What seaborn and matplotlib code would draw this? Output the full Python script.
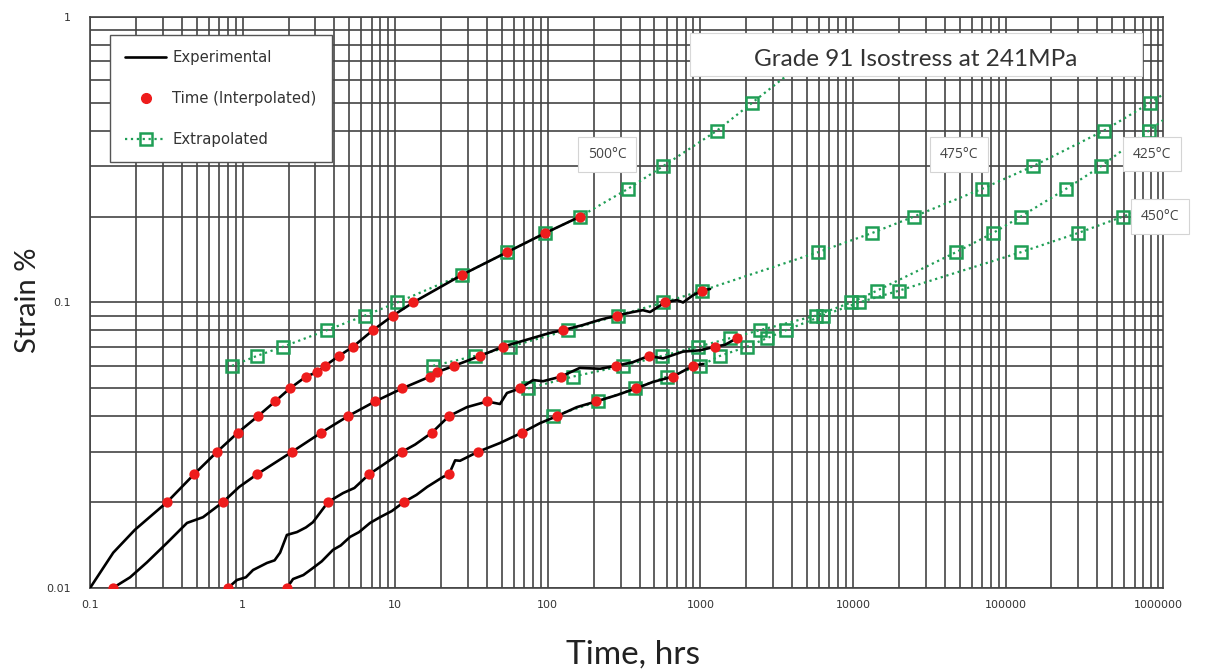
import numpy as np
import pandas as pd
import matplotlib
matplotlib.use("Agg")
import matplotlib.pyplot as plt
from matplotlib.lines import Line2D
from matplotlib.patches import Rectangle
from matplotlib.ticker import LogLocator, NullFormatter
import seaborn as sns

# ---------------- data ----------------
# Experimental creep curves (time in hours, strain in %)
exp_t_500 = [0.1, 0.142, 0.197, 0.32, 0.48, 0.68, 0.93, 1.26, 1.63, 2.04, 2.6, 3.07, 3.47,
             4.28, 5.29, 7.15, 9.67, 13.1, 27.4, 54, 96, 163]
exp_s_500 = [0.01, 0.0133, 0.016, 0.02, 0.025, 0.03, 0.035, 0.04, 0.045, 0.05, 0.055, 0.057, 0.06,
             0.065, 0.07, 0.08, 0.09, 0.1, 0.125, 0.15, 0.175, 0.2]

exp_t_475 = [0.141, 0.183, 0.236, 0.32, 0.432, 0.55, 0.744, 0.95, 1.24, 2.11, 3.27, 4.91, 7.37,
             11.1, 16.9, 18.8, 24.3, 36.0, 50.8, 103, 125.8, 170, 220, 284, 361, 420, 468,
             586, 703, 770, 894, 1025, 1157]
exp_s_475 = [0.01, 0.0109, 0.0123, 0.0144, 0.0169, 0.0177, 0.02, 0.0226, 0.025, 0.03, 0.035, 0.04, 0.045,
             0.05, 0.055, 0.057, 0.06, 0.065, 0.07, 0.0782, 0.08, 0.0834, 0.087, 0.09, 0.0926, 0.094, 0.0926,
             0.1, 0.102, 0.1, 0.106, 0.11, 0.1115]

exp_t_425 = [0.80, 0.919, 1.05, 1.17, 1.445, 1.62, 1.76, 1.95, 2.27, 2.6, 2.89, 3.63, 4.55, 5.4,
             6.73, 8.5, 11.1, 13.5, 17.4, 22.5, 29.5, 40.0, 48.6, 54, 65.8, 80, 93, 122, 162,
             220, 280, 361, 460, 569, 770, 994, 1246, 1450, 1737, 1820]
exp_s_425 = [0.01, 0.01067, 0.0109, 0.01156, 0.01224, 0.0125, 0.0133, 0.01534, 0.0157, 0.0163, 0.017, 0.02, 0.0215, 0.0224,
             0.025, 0.0272, 0.03, 0.0318, 0.035, 0.04, 0.043, 0.045, 0.0441, 0.0482, 0.05, 0.0535, 0.053, 0.055, 0.059,
             0.0586, 0.06, 0.0618, 0.065, 0.0637, 0.0673, 0.068, 0.07, 0.0711, 0.075, 0.0757]

exp_t_450 = [1.95, 2.14, 2.5, 2.89, 3.3, 3.91, 4.4, 5.06, 5.8, 6.84, 7.95, 9.5, 11.4, 13.8, 16.2,
             20.6, 22.5, 24.7, 26.6, 34.9, 48.6, 67.7, 89, 115, 155, 207, 284, 378, 489,
             661, 894, 1040]
exp_s_450 = [0.01, 0.01075, 0.0111, 0.01175, 0.0124, 0.0136, 0.0141, 0.0151, 0.0157, 0.0169, 0.0177, 0.0186, 0.02, 0.0212, 0.0226,
             0.0245, 0.025, 0.028, 0.0279, 0.03, 0.0322, 0.035, 0.0378, 0.04, 0.043, 0.045, 0.0474, 0.05, 0.0527,
             0.055, 0.06, 0.0609]

# Times interpolated at fixed strain levels
red_t_500 = [0.32, 0.48, 0.68, 0.93, 1.26, 1.63, 2.04, 2.6, 3.07, 3.47, 4.28, 5.29, 7.15, 9.67, 13.1, 27.4, 54, 96, 163]
red_s_500 = [0.02, 0.025, 0.03, 0.035, 0.04, 0.045, 0.05, 0.055, 0.057, 0.06, 0.065, 0.07, 0.08, 0.09, 0.1, 0.125, 0.15, 0.175, 0.2]
red_t_475 = [0.141, 0.744, 1.24, 2.11, 3.27, 4.91, 7.37, 11.1, 16.9, 18.8, 24.3, 36.0, 50.8, 125.8, 284, 586, 1025]
red_s_475 = [0.01, 0.02, 0.025, 0.03, 0.035, 0.04, 0.045, 0.05, 0.055, 0.057, 0.06, 0.065, 0.07, 0.08, 0.09, 0.1, 0.11]
red_t_425 = [0.80, 3.63, 6.73, 11.1, 17.4, 22.5, 40.0, 65.8, 122, 280, 460, 1246, 1737]
red_s_425 = [0.01, 0.02, 0.025, 0.03, 0.035, 0.04, 0.045, 0.05, 0.055, 0.06, 0.065, 0.07, 0.075]
red_t_450 = [1.95, 11.4, 22.5, 34.9, 67.7, 115, 207, 378, 661, 894]
red_s_450 = [0.01, 0.02, 0.025, 0.03, 0.035, 0.04, 0.045, 0.05, 0.055, 0.06]

# Extrapolated curves
ext_t_500 = [0.852, 1.24, 1.84, 3.57, 6.34, 10.3, 27.4, 54, 96, 163, 335, 569, 1285, 2178, 4840]
ext_s_500 = [0.06, 0.065, 0.07, 0.08, 0.09, 0.1, 0.125, 0.15, 0.175, 0.2, 0.25, 0.3, 0.4, 0.5, 0.7]
ext_t_475 = [17.7, 33.4, 56.4, 135.6, 287, 573, 1025, 5900, 13300, 25100, 70000, 151000, 442000, 883000, 1.5e6]
ext_s_475 = [0.06, 0.065, 0.07, 0.08, 0.09, 0.1, 0.11, 0.15, 0.175, 0.2, 0.25, 0.3, 0.4, 0.5, 0.6]
ext_t_425 = [74.2, 146, 311, 560, 965, 1563, 2458, 5720, 9700, 14360, 47300, 82600, 126000, 249000, 422000, 871000, 1.53e6]
ext_s_425 = [0.05, 0.055, 0.06, 0.065, 0.07, 0.075, 0.08, 0.09, 0.1, 0.11, 0.15, 0.175, 0.2, 0.25, 0.3, 0.4, 0.5]
ext_t_450 = [108, 213, 373, 604, 994, 1344, 2020, 2732, 3640, 6360, 10950, 20010, 126000, 298000, 588000, 1.8e6]
ext_s_450 = [0.04, 0.045, 0.05, 0.055, 0.06, 0.065, 0.07, 0.075, 0.08, 0.09, 0.1, 0.11, 0.15, 0.175, 0.2, 0.25]

temps = ["500", "475", "425", "450"]
temp_labels = ["500°C", "475°C", "425°C", "450°C"]
label_t = [244, 49500, 910000, 1.03e6]
label_s = [0.33, 0.33, 0.331, 0.2]

x_ticks = [0.1, 1, 10, 100, 1000, 10000, 100000, 1000000]
x_tick_labels = ["0.1", "1", "10", "100", "1000", "10000", "100000", "1000000"]
y_ticks = [0.01, 0.1, 1]
y_tick_labels = ["0.01", "0.1", "1"]

title_text = "Grade 91 Isostress at 241MPa"
legend_labels = ["Experimental", "Time (Interpolated)", "Extrapolated"]


def frame(tlists, slists):
    parts = []
    for name, t, s in zip(temps, tlists, slists):
        parts.append(pd.DataFrame({"time": t, "strain": s, "temp": name}))
    return pd.concat(parts, ignore_index=True)


exp_df = frame([exp_t_500, exp_t_475, exp_t_425, exp_t_450], [exp_s_500, exp_s_475, exp_s_425, exp_s_450])
red_df = frame([red_t_500, red_t_475, red_t_425, red_t_450], [red_s_500, red_s_475, red_s_425, red_s_450])
ext_df = frame([ext_t_500, ext_t_475, ext_t_425, ext_t_450], [ext_s_500, ext_s_475, ext_s_425, ext_s_450])

# ---------------- styling ----------------
sns.set_style("white")
plt.rcParams["font.family"] = ["DejaVu Sans"]

GREEN = "#1f9e55"
RED = "#ee1c1c"
GRID = "#444444"

fig = plt.figure(figsize=(12.07, 6.71), dpi=100)
ax = fig.add_axes([0.0746, 0.1237, 0.8889, 0.8510])
ax.set_xscale("log")
ax.set_yscale("log")

sns.lineplot(data=ext_df, x="time", y="strain", units="temp", estimator=None, sort=False,
             color=GREEN, linestyle=":", linewidth=1.6, marker="s", markersize=8,
             markerfacecolor="none", markeredgecolor=GREEN, markeredgewidth=1.8,
             zorder=3, ax=ax, legend=False)
sns.lineplot(data=exp_df, x="time", y="strain", units="temp", estimator=None, sort=False,
             color="black", linewidth=1.9, zorder=4, ax=ax, legend=False)
sns.scatterplot(data=red_df, x="time", y="strain", color=RED, s=55, linewidth=0,
                zorder=5, ax=ax, legend=False)

ax.set_xlim(0.1, 1.075e6)
ax.set_ylim(0.01, 1)

ax.set_xticks(x_ticks, labels=x_tick_labels)
ax.set_yticks(y_ticks, labels=y_tick_labels)
ax.xaxis.set_minor_locator(LogLocator(base=10, subs=np.arange(2, 10), numticks=100))
ax.yaxis.set_minor_locator(LogLocator(base=10, subs=np.arange(2, 10), numticks=100))
ax.xaxis.set_minor_formatter(NullFormatter())
ax.yaxis.set_minor_formatter(NullFormatter())
ax.tick_params(which="both", length=0)
ax.tick_params(axis="x", pad=9, labelsize=8, labelcolor="#333333")
ax.tick_params(axis="y", pad=14, labelsize=8, labelcolor="#333333")
ax.grid(True, which="both", color=GRID, linewidth=1.2)
ax.set_axisbelow(True)
for sp in ax.spines.values():
    sp.set_color(GRID)
    sp.set_linewidth(1.2)

ax.set_xlabel("Time, hrs", fontsize=24, family="Lato", color="#222222")
ax.set_ylabel("Strain %", fontsize=21, family="Lato", color="#222222")
ax.xaxis.set_label_coords(0.506, -0.117)
ax.xaxis.label.set_verticalalignment("center")
ax.yaxis.set_label_coords(-0.058, 0.504)
ax.yaxis.label.set_verticalalignment("center")

# title box
ax.add_patch(Rectangle((0.5592, 0.8967), 0.4212, 0.0753, transform=ax.transAxes,
                       facecolor="white", edgecolor="#d8d8d8", linewidth=0.8, zorder=6))
ax.text(0.7698, 0.9264, title_text, transform=ax.transAxes, ha="center", va="center",
        fontsize=17.5, family="Lato", color="#333333", zorder=7)

# temperature tags
for lab, tx, sy in zip(temp_labels, label_t, label_s):
    ax.text(tx, sy, lab, ha="center", va="center", fontsize=10, color="#444444",
            family="Open Sans", zorder=8, clip_on=False,
            bbox=dict(boxstyle="square,pad=0.7", facecolor="white", edgecolor="#d4d4d4", linewidth=0.8))

# legend
handles = [
    Line2D([], [], color="black", linewidth=1.9),
    Line2D([], [], color=RED, marker="o", linestyle="none", markersize=7),
    Line2D([], [], color=GREEN, linestyle=":", linewidth=1.6, marker="s", markersize=8,
           markerfacecolor="none", markeredgewidth=1.8),
]
leg = ax.legend(handles, legend_labels, loc="upper left", bbox_to_anchor=(0.0186, 0.9685),
                borderaxespad=0, fontsize=10.7, frameon=True, fancybox=False, framealpha=1,
                edgecolor="#555555", borderpad=1.0, labelspacing=1.75, handlelength=2.8,
                handletextpad=0.4)
leg.get_frame().set_linewidth(1.0)
leg.set_zorder(9)
for txt in leg.get_texts():
    txt.set_color("#333333")

fig.savefig("out.png", dpi=100, facecolor="white")
